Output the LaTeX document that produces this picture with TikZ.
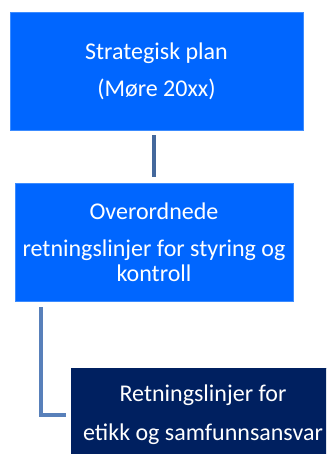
\documentclass[tikz,border=0pt]{standalone}
\usepackage{fontspec}
\setmainfont{Carlito}
\definecolor{planblue}{RGB}{0,102,255}
\definecolor{planedge}{RGB}{60,140,255}
\definecolor{navy}{RGB}{0,32,96}
\definecolor{linkdark}{RGB}{68,104,156}
\definecolor{linklight}{RGB}{88,128,186}

\begin{document}
\begin{tikzpicture}[x=1pt,y=-1pt,
  box/.style={fill=planblue,draw=planedge,line width=.6pt,text=white,align=center,
    inner sep=0pt,font=\fontsize{24}{25}\selectfont},
  link/.style={line width=4.5pt}]
  \useasboundingbox (0,0) rectangle (326,454);
  \clip (0,0) rectangle (326,454);
  \node[box,minimum width=293pt,minimum height=118pt] (plan) at (156.5,71) {Strategisk plan\\[12pt](Møre 20xx)};
  \node[box,minimum width=278pt,minimum height=118pt] (over) at (154,242) {Overordnede\\[12pt]retningslinjer for styring og\\kontroll};
  \node[box,fill=navy,draw=navy,minimum width=264pt,minimum height=94pt] (etikk) at (203,415) {Retningslinjer for\\[14pt]etikk og samfunnsansvar};
  \draw[link,draw=linkdark,shorten <=5pt,shorten >=6pt] (over.north |- plan.south) -- (over.north);
  \draw[link,draw=linklight,shorten <=6pt,shorten >=5pt] (over.south -| 41,0) |- (etikk.west);
\end{tikzpicture}
\end{document}
